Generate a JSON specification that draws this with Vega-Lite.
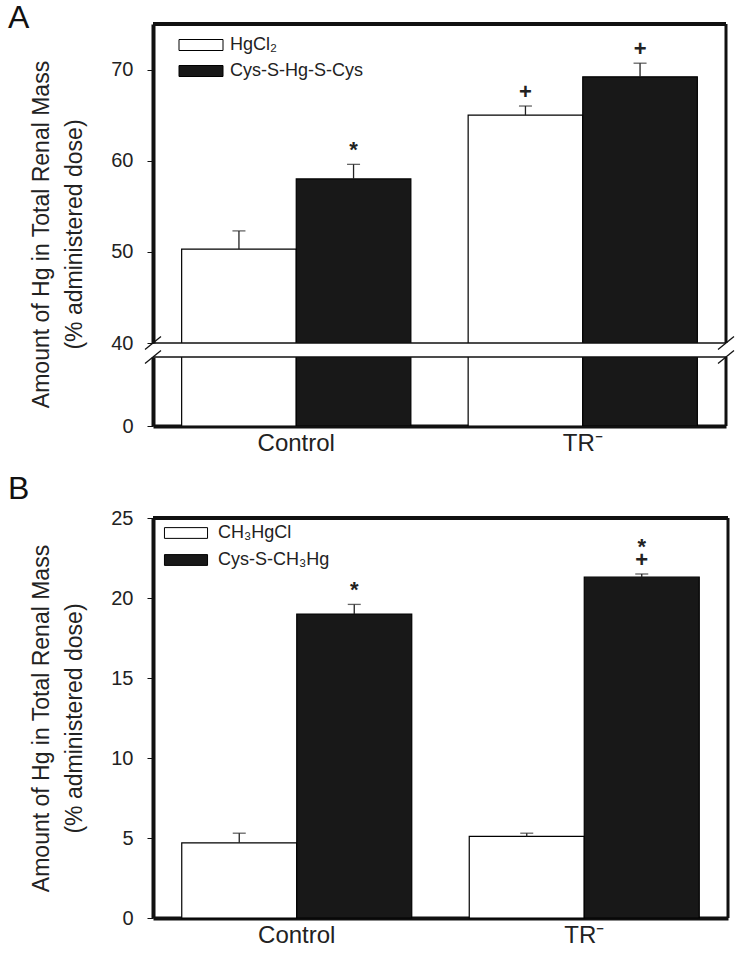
{
  "$schema": "https://vega.github.io/schema/vega-lite/v6.json",
  "background": "white",
  "padding": {"left": 8, "top": 2, "right": 5, "bottom": 5},
  "datasets": {
    "a_bars": [
      {"group": "Control", "series": "HgCl₂", "value": 50.3, "err": 52.3, "label": "", "label2": ""},
      {"group": "Control", "series": "Cys-S-Hg-S-Cys", "value": 58.0, "err": 59.6, "label": "*", "label2": ""},
      {"group": "TR⁻", "series": "HgCl₂", "value": 65.0, "err": 66.0, "label": "+", "label2": ""},
      {"group": "TR⁻", "series": "Cys-S-Hg-S-Cys", "value": 69.2, "err": 70.7, "label": "+", "label2": ""}
    ],
    "b_bars": [
      {"group": "Control", "series": "CH₃HgCl", "value": 4.7, "err": 5.3, "label": "", "label2": ""},
      {"group": "Control", "series": "Cys-S-CH₃Hg", "value": 19.0, "err": 19.6, "label": "*", "label2": ""},
      {"group": "TR⁻", "series": "CH₃HgCl", "value": 5.1, "err": 5.3, "label": "", "label2": ""},
      {"group": "TR⁻", "series": "Cys-S-CH₃Hg", "value": 21.3, "err": 21.5, "label": "+", "label2": "*"}
    ],
    "edges": [{"side": 0}, {"side": 1}]
  },
  "spacing": 18,
  "resolve": {"scale": {"fill": "independent", "x": "independent", "y": "independent", "xOffset": "independent"}, "legend": {"fill": "independent"}},
  "vconcat": [
    {
      "title": {"text": "A", "anchor": "start", "frame": "group", "fontSize": 32, "fontWeight": "normal", "dx": -145, "offset": -13, "color": "#111"},
      "spacing": 14,
      "bounds": "flush",
      "resolve": {"scale": {"fill": "independent"}, "legend": {"fill": "independent"}},
      "vconcat": [
        {
          "width": 573,
          "height": 319,
          "resolve": {"scale": {"x": "independent"}},
          "layer": [
            {
              "data": {"name": "a_bars"},
              "mark": {"type": "bar", "stroke": "black", "strokeWidth": 1.2, "clip": true},
              "encoding": {
                "x": {"field": "group", "type": "nominal", "sort": ["Control", "TR⁻"], "axis": null, "scale": {"paddingInner": 0.2, "paddingOuter": 0.1}},
                "xOffset": {"field": "series", "type": "nominal", "sort": ["HgCl₂", "Cys-S-Hg-S-Cys"], "scale": {"paddingInner": 0, "paddingOuter": 0}},
                "y": {"field": "value", "type": "quantitative", "scale": {"domain": [40, 75], "nice": false, "zero": false},
                  "axis": {"title": ["Amount of Hg in Total Renal Mass", "(% administered dose)"], "values": [40, 50, 60, 70], "titleY": 210, "titlePadding": 24}},
                "fill": {"field": "series", "type": "nominal", "sort": ["HgCl₂", "Cys-S-Hg-S-Cys"], "scale": {"range": ["white", "#181818"]},
                  "legend": {"title": null, "orient": "none", "legendX": 39, "legendY": 12, "padding": 0, "symbolType": "M-4,-1H4V1H-4Z", "symbolSize": 121, "symbolStrokeColor": "black", "symbolStrokeWidth": 1, "labelFontSize": 18, "labelOffset": 20, "rowPadding": 8, "labelColor": "#222", "labelFont": "Liberation Sans"}}
              }
            },
            {
              "data": {"name": "a_bars"},
              "layer": [
                {
                  "mark": {"type": "rule", "stroke": "#222", "strokeWidth": 1.3},
                  "encoding": {
                    "y": {"field": "value", "type": "quantitative"},
                    "y2": {"field": "err"}
                  }
                },
                {
                  "mark": {"type": "tick", "color": "#222", "size": 13, "thickness": 1.3, "orient": "horizontal"},
                  "encoding": {"y": {"field": "err", "type": "quantitative"}}
                },
                {
                  "mark": {"type": "text", "baseline": "bottom", "dy": -2, "fontSize": 22, "fontWeight": "bold", "color": "#222"},
                  "encoding": {"y": {"field": "err", "type": "quantitative"}, "text": {"field": "label"}}
                }
              ],
              "encoding": {
                "x": {"field": "group", "type": "nominal", "sort": ["Control", "TR⁻"], "axis": null, "scale": {"paddingInner": 0.2, "paddingOuter": 0.1}},
                "xOffset": {"field": "series", "type": "nominal", "sort": ["HgCl₂", "Cys-S-Hg-S-Cys"], "scale": {"paddingInner": 0, "paddingOuter": 0}}
              }
            },
            {
              "data": {"name": "edges"},
              "mark": {"type": "rule", "color": "#111", "strokeWidth": 4},
              "encoding": {"y": {"datum": 75}}
            },
            {
              "data": {"name": "edges"},
              "mark": {"type": "rule", "color": "#111", "strokeWidth": 1},
              "encoding": {"y": {"datum": 40}}
            },
            {
              "data": {"name": "edges"},
              "transform": [{"filter": "datum.side == 1"}],
              "mark": {"type": "rule", "color": "#111", "strokeWidth": 3},
              "encoding": {"x": {"field": "side", "type": "quantitative", "scale": {"domain": [0, 1], "nice": false, "zero": false}, "axis": null}}
            },
            {
              "data": {"name": "edges"},
              "mark": {"type": "point", "shape": "M-1,0.8L1,-0.8", "size": 256, "stroke": "#111", "strokeWidth": 1.3, "filled": false, "opacity": 1},
              "encoding": {
                "x": {"field": "side", "type": "quantitative", "scale": {"domain": [0, 1], "nice": false, "zero": false}, "axis": null},
                "y": {"datum": 40}
              }
            }
          ]
        },
        {
          "width": 573,
          "height": 69,
          "resolve": {"scale": {"x": "independent"}},
          "layer": [
            {
              "data": {"name": "a_bars"},
              "mark": {"type": "bar", "stroke": "black", "strokeWidth": 1.2, "clip": true},
              "encoding": {
                "x": {"field": "group", "type": "nominal", "sort": ["Control", "TR⁻"], "scale": {"paddingInner": 0.2, "paddingOuter": 0.1},
                  "axis": {"title": null, "labelAngle": 0, "ticks": false, "domainWidth": 4, "labelFontSize": 24, "labelPadding": 5}},
                "xOffset": {"field": "series", "type": "nominal", "sort": ["HgCl₂", "Cys-S-Hg-S-Cys"], "scale": {"paddingInner": 0, "paddingOuter": 0}},
                "y": {"field": "value", "type": "quantitative", "scale": {"domain": [0, 7.6], "nice": false},
                  "axis": {"title": null, "values": [0]}},
                "fill": {"field": "series", "type": "nominal", "sort": ["HgCl₂", "Cys-S-Hg-S-Cys"], "scale": {"range": ["white", "#181818"]}, "legend": null}
              }
            },
            {
              "data": {"name": "edges"},
              "mark": {"type": "rule", "color": "#111", "strokeWidth": 1},
              "encoding": {"y": {"datum": 7.6}}
            },
            {
              "data": {"name": "edges"},
              "transform": [{"filter": "datum.side == 1"}],
              "mark": {"type": "rule", "color": "#111", "strokeWidth": 3},
              "encoding": {"x": {"field": "side", "type": "quantitative", "scale": {"domain": [0, 1], "nice": false, "zero": false}, "axis": null}}
            },
            {
              "data": {"name": "edges"},
              "mark": {"type": "point", "shape": "M-1,0.8L1,-0.8", "size": 256, "stroke": "#111", "strokeWidth": 1.3, "filled": false, "opacity": 1},
              "encoding": {
                "x": {"field": "side", "type": "quantitative", "scale": {"domain": [0, 1], "nice": false, "zero": false}, "axis": null},
                "y": {"datum": 7.6}
              }
            }
          ]
        }
      ]
    },
    {
      "title": {"text": "B", "anchor": "start", "frame": "group", "fontSize": 32, "fontWeight": "normal", "dx": -145, "offset": 2, "color": "#111"},
      "width": 575,
      "height": 400,
      "resolve": {"scale": {"x": "independent"}},
      "layer": [
        {
          "data": {"name": "b_bars"},
          "mark": {"type": "bar", "stroke": "black", "strokeWidth": 1.2},
          "encoding": {
            "x": {"field": "group", "type": "nominal", "sort": ["Control", "TR⁻"], "scale": {"paddingInner": 0.2, "paddingOuter": 0.1},
              "axis": {"title": null, "labelAngle": 0, "ticks": false, "domainWidth": 4, "labelFontSize": 24, "labelPadding": 5}},
            "xOffset": {"field": "series", "type": "nominal", "sort": ["CH₃HgCl", "Cys-S-CH₃Hg"], "scale": {"paddingInner": 0, "paddingOuter": 0}},
            "y": {"field": "value", "type": "quantitative", "scale": {"domain": [0, 25], "nice": false},
              "axis": {"title": ["Amount of Hg in Total Renal Mass", "(% administered dose)"], "values": [0, 5, 10, 15, 20, 25], "titlePadding": 24}},
            "fill": {"field": "series", "type": "nominal", "sort": ["CH₃HgCl", "Cys-S-CH₃Hg"], "scale": {"range": ["white", "#181818"]},
              "legend": {"title": null, "orient": "none", "legendX": 24, "legendY": 6, "padding": 0, "symbolType": "M-4,-1H4V1H-4Z", "symbolSize": 116, "symbolStrokeColor": "black", "symbolStrokeWidth": 1, "labelFontSize": 18, "labelOffset": 23, "rowPadding": 9, "labelColor": "#222", "labelFont": "Liberation Sans"}}
          }
        },
        {
          "data": {"name": "b_bars"},
          "layer": [
            {
              "mark": {"type": "rule", "stroke": "#222", "strokeWidth": 1.3},
              "encoding": {
                "y": {"field": "value", "type": "quantitative"},
                "y2": {"field": "err"}
              }
            },
            {
              "mark": {"type": "tick", "color": "#222", "size": 13, "thickness": 1.3, "orient": "horizontal"},
              "encoding": {"y": {"field": "err", "type": "quantitative"}}
            },
            {
              "mark": {"type": "text", "baseline": "bottom", "dy": -2, "fontSize": 22, "fontWeight": "bold", "color": "#222"},
              "encoding": {"y": {"field": "err", "type": "quantitative"}, "text": {"field": "label"}}
            },
            {
              "mark": {"type": "text", "baseline": "bottom", "dy": -15, "fontSize": 22, "fontWeight": "bold", "color": "#222"},
              "encoding": {"y": {"field": "err", "type": "quantitative"}, "text": {"field": "label2"}}
            }
          ],
          "encoding": {
            "x": {"field": "group", "type": "nominal", "sort": ["Control", "TR⁻"], "axis": null, "scale": {"paddingInner": 0.2, "paddingOuter": 0.1}},
            "xOffset": {"field": "series", "type": "nominal", "sort": ["CH₃HgCl", "Cys-S-CH₃Hg"], "scale": {"paddingInner": 0, "paddingOuter": 0}}
          }
        },
        {
          "data": {"name": "edges"},
          "mark": {"type": "rule", "color": "#111", "strokeWidth": 4},
          "encoding": {"y": {"datum": 25}}
        },
        {
          "data": {"name": "edges"},
          "transform": [{"filter": "datum.side == 1"}],
          "mark": {"type": "rule", "color": "#111", "strokeWidth": 3},
          "encoding": {"x": {"field": "side", "type": "quantitative", "scale": {"domain": [0, 1], "nice": false, "zero": false}, "axis": null}}
        }
      ]
    }
  ],
  "config": {
    "font": "Liberation Sans",
    "view": {"stroke": null},
    "axis": {
      "grid": false,
      "domainColor": "#111",
      "tickColor": "#111",
      "labelColor": "#222",
      "titleColor": "#222",
      "labelFont": "Liberation Sans",
      "titleFont": "Liberation Sans"
    },
    "axisY": {
      "domainWidth": 4,
      "tickSize": 6,
      "tickWidth": 1,
      "labelFontSize": 20,
      "labelPadding": 14,
      "titleFontSize": 23,
      "titleFontWeight": "normal",
      "titleLineHeight": 33
    }
  }
}
